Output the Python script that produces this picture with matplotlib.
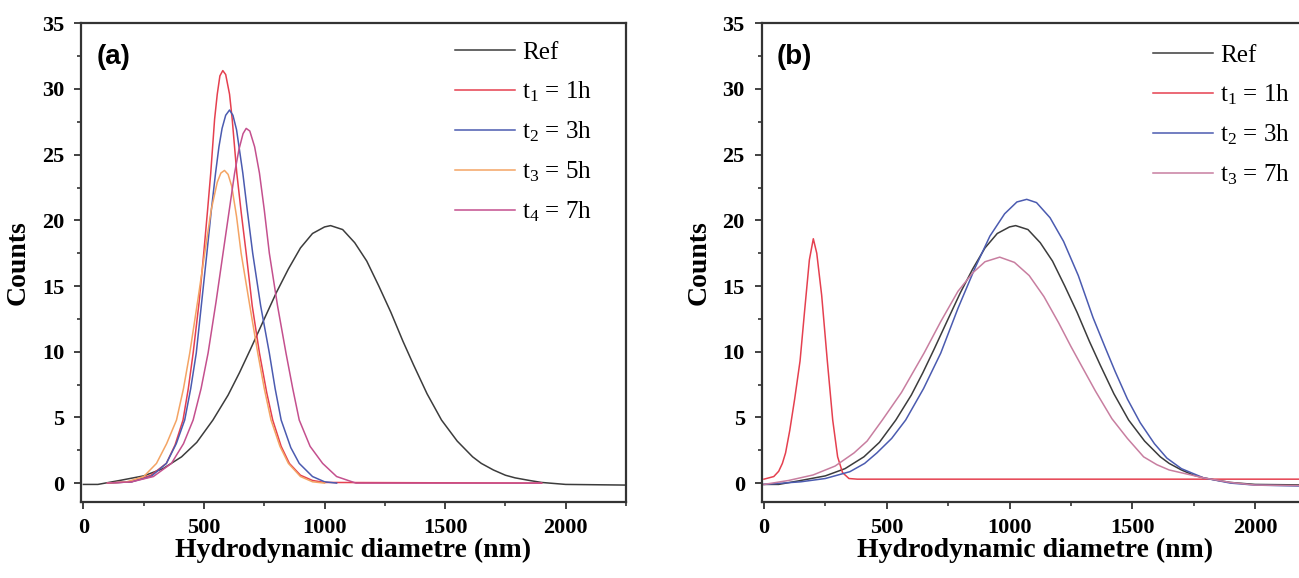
import matplotlib
matplotlib.use('Agg')
import matplotlib.pyplot as plt
from matplotlib.ticker import MultipleLocator

plt.rcParams['font.family'] = 'Liberation Serif'
plt.rcParams['mathtext.fontset'] = 'custom'
plt.rcParams['mathtext.rm'] = 'Liberation Serif'
plt.rcParams['mathtext.it'] = 'Liberation Serif:italic'

# Ref (same in both panels)
ref_x = [0, 60, 150, 250, 330, 407, 470, 537, 600, 647, 693, 750, 800, 850, 900, 950,
         1000, 1025, 1075, 1125, 1175, 1225, 1275, 1325, 1369, 1425, 1485, 1550, 1614,
         1650, 1700, 1750, 1790, 1850, 1900, 2000, 2250]
ref_y = [-0.1, -0.1, 0.2, 0.55, 1.1, 2.0, 3.1, 4.8, 6.7, 8.4, 10.2, 12.5, 14.5, 16.3, 17.9, 19.0,
         19.5, 19.6, 19.3, 18.3, 16.9, 15.0, 13.0, 10.8, 9.0, 6.8, 4.8, 3.2, 2.0,
         1.5, 1.0, 0.6, 0.4, 0.2, 0.05, -0.1, -0.15]

# panel (a)
a_t1_x = [100, 200, 280, 344, 380, 413, 435, 455, 480, 499, 515, 528, 544, 555, 566, 578,
          590, 606, 617, 636, 655, 675, 700, 730, 760, 785, 820, 854, 900, 950, 1000, 1900]
a_t1_y = [0, 0.1, 0.6, 1.5, 2.9, 4.8, 7.2, 9.9, 13.8, 17.5, 20.8, 23.6, 27.7, 29.6, 31.0, 31.4,
          31.1, 29.6, 27.7, 23.6, 20.5, 17.5, 13.5, 9.9, 6.9, 4.8, 2.8, 1.5, 0.6, 0.2, 0.05, 0]

a_t2_x = [100, 200, 280, 344, 385, 420, 445, 468, 490, 512, 530, 548, 562, 575, 590, 606,
          620, 635, 650, 661, 680, 702, 735, 771, 795, 820, 860, 895, 950, 1000, 1050]
a_t2_y = [0, 0.1, 0.5, 1.5, 3.0, 4.8, 7.2, 9.9, 13.7, 17.5, 20.7, 23.6, 25.6, 27.0, 28.0, 28.4,
          28.0, 26.9, 25.0, 23.6, 20.7, 17.5, 13.5, 9.9, 7.2, 4.8, 2.7, 1.5, 0.5, 0.1, 0]

a_t3_x = [100, 180, 250, 303, 345, 386, 415, 441, 475, 503, 530, 555, 570, 585, 600, 615,
          635, 654, 690, 723, 750, 778, 815, 850, 900, 950, 1000]
a_t3_y = [0, 0.1, 0.5, 1.5, 3.0, 4.8, 7.2, 9.9, 14.0, 17.5, 20.8, 22.9, 23.6, 23.8, 23.5, 22.6,
          20.3, 17.5, 13.5, 9.9, 7.2, 4.8, 2.8, 1.5, 0.5, 0.1, 0]

a_t4_x = [100, 200, 290, 365, 415, 455, 488, 517, 550, 579, 605, 627, 645, 662, 675, 690,
          710, 730, 750, 771, 805, 840, 868, 895, 940, 992, 1050, 1130, 1900]
a_t4_y = [0, 0.1, 0.5, 1.5, 3.0, 4.8, 7.2, 9.9, 13.8, 17.5, 20.8, 23.6, 25.4, 26.6, 27.0, 26.8,
          25.6, 23.6, 20.8, 17.5, 13.5, 9.9, 7.2, 4.8, 2.8, 1.5, 0.5, 0, 0]

# panel (b)
b_t1_x = [0, 40, 60, 75, 88, 105, 125, 147, 165, 185, 201, 215, 235, 258, 280, 300, 320, 346, 380, 2250]
b_t1_y = [0.3, 0.5, 0.9, 1.5, 2.3, 4.0, 6.4, 9.3, 13.0, 17.0, 18.6, 17.5, 14.3, 9.3, 4.8, 2.0, 0.8, 0.35, 0.3, 0.3]

b_t2_x = [0, 150, 250, 350, 410, 460, 520, 577, 650, 720, 790, 860, 920, 980, 1030, 1070, 1110,
          1165, 1220, 1280, 1340, 1390, 1430, 1480, 1532, 1590, 1641, 1700, 1790, 1900, 2000, 2250]
b_t2_y = [-0.1, 0.1, 0.35, 0.87, 1.5, 2.3, 3.4, 4.8, 7.2, 9.9, 13.3, 16.4, 18.8, 20.5, 21.4, 21.6, 21.35,
          20.2, 18.4, 15.8, 12.6, 10.3, 8.5, 6.4, 4.6, 3.0, 1.9, 1.1, 0.4, 0.0, -0.15, -0.25]

b_t3_x = [0, 100, 200, 290, 367, 420, 482, 560, 652, 720, 790, 850, 900, 960, 1020, 1080,
          1140, 1200, 1250, 1294, 1350, 1417, 1480, 1546, 1600, 1650, 1790, 1900, 2000, 2250]
b_t3_y = [-0.1, 0.2, 0.62, 1.3, 2.3, 3.2, 4.8, 6.9, 9.9, 12.3, 14.6, 16.0, 16.85, 17.2, 16.8, 15.8,
          14.2, 12.2, 10.4, 8.9, 7.0, 4.9, 3.4, 2.0, 1.4, 1.0, 0.4, 0.05, -0.15, -0.2]

labels_a = ['Ref', r'$\mathrm{t_1}$ = 1h', r'$\mathrm{t_2}$ = 3h', r'$\mathrm{t_3}$ = 5h', r'$\mathrm{t_4}$ = 7h']
labels_b = ['Ref', r'$\mathrm{t_1}$ = 1h', r'$\mathrm{t_2}$ = 3h', r'$\mathrm{t_3}$ = 7h']

c_ref = '#3c3c3c'
c_red = '#e5404f'
c_blue = '#4b5bb0'
c_orange = '#f4a464'
c_purple = '#c4508e'
c_mauve = '#c87ea0'

fig = plt.figure(figsize=(12.99, 5.78), dpi=100)
bot = 1 - 501.5 / 578
hgt = (501.5 - 23.3) / 578
ax1 = fig.add_axes([81 / 1299, bot, 545 / 1299, hgt])
ax2 = fig.add_axes([761.5 / 1299, bot, 555 / 1299, hgt])

lw = 1.1
ax1.plot(ref_x, ref_y, color=c_ref, lw=lw, label=labels_a[0])
ax1.plot(a_t1_x, a_t1_y, color=c_red, lw=lw, label=labels_a[1])
ax1.plot(a_t2_x, a_t2_y, color=c_blue, lw=lw, label=labels_a[2])
ax1.plot(a_t3_x, a_t3_y, color=c_orange, lw=lw, label=labels_a[3])
ax1.plot(a_t4_x, a_t4_y, color=c_purple, lw=lw, label=labels_a[4])

ax2.plot(ref_x, ref_y, color=c_ref, lw=lw, label=labels_b[0])
ax2.plot(b_t1_x, b_t1_y, color=c_red, lw=lw, label=labels_b[1])
ax2.plot(b_t2_x, b_t2_y, color=c_blue, lw=lw, label=labels_b[2])
ax2.plot(b_t3_x, b_t3_y, color=c_mauve, lw=lw, label=labels_b[3])

for ax, tag, leg_x, leg_y, xl_x, yl_x in [(ax1, '(a)', 0.686, 0.962, 0.5, -0.092),
                                          (ax2, '(b)', 0.705, 0.956, 0.493, -0.089)]:
    ax.set_xlim(-10, 2250)
    ax.set_ylim(-1.4, 35)
    ax.xaxis.set_major_locator(MultipleLocator(500))
    ax.xaxis.set_minor_locator(MultipleLocator(250))
    ax.yaxis.set_major_locator(MultipleLocator(5))
    ax.yaxis.set_minor_locator(MultipleLocator(2.5))
    ax.tick_params(which='major', direction='out', length=5, width=1.3, labelsize=16, pad=7,
                   color='#333333')
    ax.tick_params(which='minor', direction='out', length=3, width=1.2, color='#333333')
    for lab in ax.get_xticklabels() + ax.get_yticklabels():
        lab.set_fontweight('bold')
    for s in ax.spines.values():
        s.set_linewidth(1.6)
        s.set_color('#333333')
    ax.set_xlabel('Hydrodynamic diametre (nm)', fontsize=20, fontweight='bold')
    ax.set_ylabel('Counts', fontsize=20, fontweight='bold')
    ax.xaxis.set_label_coords(xl_x, -0.076)
    ax.yaxis.set_label_coords(yl_x, 0.5)
    ax.text(0.06, 0.929, tag, transform=ax.transAxes, ha='center', va='center',
            fontsize=20, fontweight='bold', family='Liberation Sans')
    ax.legend(loc='upper left', bbox_to_anchor=(leg_x, leg_y), frameon=False, fontsize=18,
              handlelength=2.4, handletextpad=0.3, labelspacing=0.62, borderpad=0,
              borderaxespad=0)

fig.savefig('out.png', dpi=100)
